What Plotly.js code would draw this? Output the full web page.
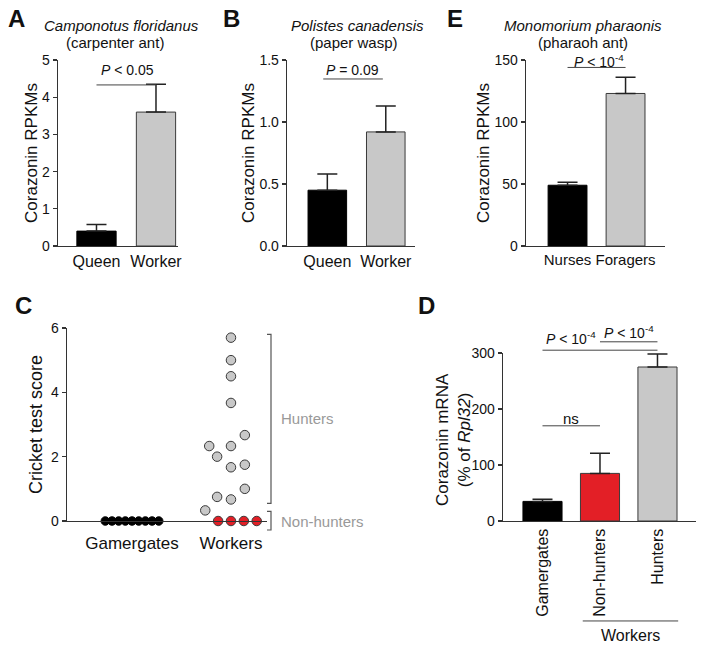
<!DOCTYPE html>
<html><head><meta charset="utf-8">
<script src="https://cdn.plot.ly/plotly-3.0.1.min.js"></script>
<style>html,body{margin:0;padding:0;background:#fff}#chart{width:704px;height:648px}</style>
</head><body><div id="chart"></div>
<script>
// ---------- data ----------
const casteCats = ['Queen', 'Worker'];
const campoValues = [0.40, 3.60];
const campoErrTop = [0.58, 4.35];
const polistesValues = [0.45, 0.92];
const polistesErrTop = [0.58, 1.13];
const pharaohCats = ['Nurses', 'Foragers'];
const pharaohValues = [49, 123];
const pharaohErrTop = [51.5, 136];
const mrnaCats = ['Gamergates', 'Non-hunters', 'Hunters'];
const mrnaValues = [35, 85, 275];
const mrnaErrTop = [39, 121, 298];
const cricketGroups = ['Gamergates', 'Workers'];
const gamergateScores = [0, 0, 0, 0, 0, 0, 0, 0, 0];
const gamergateJitter = [-0.27, -0.2025, -0.135, -0.0675, 0, 0.0675, 0.135, 0.2025, 0.27];
const hunterScores = [5.7, 5.0, 4.5, 3.67, 2.67, 2.33, 2.33, 2.0, 1.67, 1.75, 1.0, 0.75, 0.67, 0.33];
const hunterJitter = [0, 0, 0, 0, 0.14, -0.22, 0, -0.14, 0, 0.14, 0.14, -0.14, 0, -0.26];
const nonHunterScores = [0, 0, 0, 0];
const nonHunterJitter = [-0.13, 0, 0.13, 0.26];
const hunterBracket = [0.55, 5.8];
const nonHunterBracket = [-0.28, 0.3];

// ---------- styles ----------
const FONT = 'Liberation Sans, Arial, Helvetica, sans-serif';
const BLACK = '#000000', GREY = '#c8c8c8', RED = '#e31f26', EDGE = '#3a3a3a', AX = '#333333';
const W = 704, H = 648;
const px = x => x / W, py = y => 1 - y / H;

// panel frames (pixels) and ranges
const P = {
  A: {x: [58, 178], y: [246, 60], xr: [-0.647, 1.37], yr: [0, 5], ax: ''},
  B: {x: [287, 415], y: [246, 60], xr: [-0.69, 1.50], yr: [0, 1.5], ax: '2'},
  E: {x: [526, 665], y: [246, 60], xr: [-0.716, 1.68], yr: [0, 150], ax: '3'},
  C: {x: [67, 267], y: [521, 328], xr: [0.343, 2.364], yr: [0, 6], ax: '4'},
  D: {x: [503, 696], y: [521, 353], xr: [-0.687, 2.67], yr: [0, 300], ax: '5'}
};
const fx = (p, v) => (v - p.xr[0]) / (p.xr[1] - p.xr[0]);
const fy = (p, v) => (v - p.yr[0]) / (p.yr[1] - p.yr[0]);

function barTrace(p, cats, vals, errTop, colors, edges, width) {
  return {
    type: 'bar', x: cats, y: vals, width: width,
    xaxis: 'x' + p.ax, yaxis: 'y' + p.ax,
    marker: {color: colors, line: {color: edges, width: 1}},
    error_y: {type: 'data', symmetric: false,
      array: errTop.map((t, i) => t - vals[i]), arrayminus: vals.map(() => 0),
      color: '#222', thickness: 1.5, width: 10},
    hoverinfo: 'none'
  };
}

const traces = [
  barTrace(P.A, casteCats, campoValues, campoErrTop, [BLACK, GREY], [BLACK, EDGE], 0.66),
  barTrace(P.B, casteCats, polistesValues, polistesErrTop, [BLACK, GREY], [BLACK, EDGE], 0.66),
  barTrace(P.E, pharaohCats, pharaohValues, pharaohErrTop, [BLACK, GREY], [BLACK, EDGE], 0.67),
  barTrace(P.D, mrnaCats, mrnaValues, mrnaErrTop, [BLACK, RED, GREY], [BLACK, EDGE, EDGE], 0.68),
  {type: 'scatter', mode: 'markers', xaxis: 'x4', yaxis: 'y4', cliponaxis: false,
   x: gamergateJitter.map(j => 1 + j), y: gamergateScores,
   marker: {size: 8.5, color: BLACK, line: {color: BLACK, width: 1}}},
  {type: 'scatter', mode: 'markers', xaxis: 'x4', yaxis: 'y4', cliponaxis: false,
   x: hunterJitter.map(j => 2 + j), y: hunterScores,
   marker: {size: 9.5, color: GREY, line: {color: EDGE, width: 1}}},
  {type: 'scatter', mode: 'markers', xaxis: 'x4', yaxis: 'y4', cliponaxis: false,
   x: nonHunterJitter.map(j => 2 + j), y: nonHunterScores,
   marker: {size: 9.5, color: RED, line: {color: EDGE, width: 1}}}
];

function xAxis(p, extra) {
  return Object.assign({
    domain: [px(p.x[0]), px(p.x[1])], range: p.xr, anchor: 'y' + p.ax,
    showline: true, linecolor: AX, linewidth: 1.3, ticks: '', showgrid: false, zeroline: false,
    tickangle: 0, tickfont: {size: 16, color: '#111'}, fixedrange: true
  }, extra || {});
}
function yAxis(p, title, extra) {
  return Object.assign({
    domain: [py(p.y[0]), py(p.y[1])], range: p.yr, anchor: 'x' + p.ax,
    showline: true, linecolor: AX, linewidth: 1.3, ticks: 'outside', ticklen: 4, tickwidth: 1.3,
    tickcolor: AX, showgrid: false, zeroline: false, tickfont: {size: 14, color: '#111'},
    title: {text: title, font: {size: 17, color: '#111'}, standoff: 0}, fixedrange: true
  }, extra || {});
}

const layout = {
  width: W, height: H, margin: {l: 0, r: 0, t: 0, b: 0},
  paper_bgcolor: '#fff', plot_bgcolor: 'rgba(0,0,0,0)', showlegend: false,
  font: {family: FONT, color: '#111'}, bargap: 0,
  xaxis: xAxis(P.A), yaxis: yAxis(P.A, 'Corazonin RPKMs', {dtick: 1}),
  xaxis2: xAxis(P.B), yaxis2: yAxis(P.B, 'Corazonin RPKMs', {dtick: 0.5, tickformat: '.1f'}),
  xaxis3: xAxis(P.E, {tickfont: {size: 15, color: '#111'}}), yaxis3: yAxis(P.E, 'Corazonin RPKMs', {dtick: 50}),
  xaxis4: xAxis(P.C, {tickvals: [1, 2], ticktext: cricketGroups, tickfont: {size: 17, color: '#111'}, ticklabelstandoff: 6}),
  yaxis4: yAxis(P.C, 'Cricket test score', {dtick: 2, title: {text: 'Cricket test score', font: {size: 18, color: '#111'}, standoff: 3}}),
  xaxis5: xAxis(P.D, {tickangle: -90}),
  yaxis5: yAxis(P.D, '', {dtick: 100}),
  shapes: [], annotations: []
};

function sigLine(p, c0, c1, v) {
  layout.shapes.push({type: 'line', xref: 'x' + p.ax + ' domain', yref: 'y' + p.ax + ' domain',
    x0: fx(p, c0), x1: fx(p, c1), y0: fy(p, v), y1: fy(p, v), line: {color: '#444', width: 1}});
}
sigLine(P.A, 0, 1, 4.33);
sigLine(P.B, -0.07, 0.95, 1.347);
sigLine(P.E, 0, 1, 144);
sigLine(P.D, 0, 1, 170);
sigLine(P.D, 0, 2, 305);
sigLine(P.D, 1, 2, 320);
// workers group line under D
layout.shapes.push({type: 'line', xref: 'x5 domain', yref: 'y5 domain',
  x0: fx(P.D, 0.70), x1: fx(P.D, 2.36), y0: -0.595, y1: -0.595, line: {color: '#444', width: 1}});
// brackets in C
function bracket(p, lo, hi) {
  const xa = 'x' + p.ax + ' domain', ya = 'y' + p.ax + ' domain';
  const xb = 1.02, xt = 1.0;
  layout.shapes.push({type: 'path', xref: xa, yref: ya,
    path: `M${xt},${fy(p, hi)} L${xb},${fy(p, hi)} L${xb},${fy(p, lo)} L${xt},${fy(p, lo)}`,
    line: {color: '#555', width: 1.2}});
}
bracket(P.C, hunterBracket[0], hunterBracket[1]);
bracket(P.C, nonHunterBracket[0], nonHunterBracket[1]);

function txt(x, y, text, size, opts) {
  layout.annotations.push(Object.assign({xref: 'paper', yref: 'paper', x: px(x), y: py(y), text: text,
    showarrow: false, xanchor: 'center', yanchor: 'middle', font: {size: size, color: '#111', family: FONT}}, opts || {}));
}
const letter = {size: 24, color: '#111', family: FONT, weight: 'bold'};
txt(16, 18, '<b>A</b>', 24, {font: letter});
txt(231, 18, '<b>B</b>', 24, {font: letter});
txt(455, 18, '<b>E</b>', 24, {font: letter});
txt(23, 305, '<b>C</b>', 24, {font: letter});
txt(426, 305, '<b>D</b>', 24, {font: letter});
txt(121, 26, '<i>Camponotus floridanus</i>', 15);
txt(115, 43, '(carpenter ant)', 15);
txt(357, 26, '<i>Polistes canadensis</i>', 15);
txt(354, 43, '(paper wasp)', 15);
txt(583, 26, '<i>Monomorium pharaonis</i>', 15);
txt(583, 43, '(pharaoh ant)', 15);
txt(127, 70, '<i>P</i> &lt; 0.05', 14);
txt(352, 70, '<i>P</i> = 0.09', 14);
txt(599, 61, '<i>P</i> &lt; 10<sup>-4</sup>', 14);
txt(571, 338, '<i>P</i> &lt; 10<sup>-4</sup>', 14);
txt(629, 332, '<i>P</i> &lt; 10<sup>-4</sup>', 14);
txt(571, 418, 'ns', 15);
txt(279, 418, 'Hunters', 15, {xanchor: 'left', font: {size: 15, color: '#999', family: FONT}});
txt(279, 521, 'Non-hunters', 15, {xanchor: 'left', font: {size: 15, color: '#999', family: FONT}});
txt(630, 635, 'Workers', 16);
txt(453, 440, 'Corazonin mRNA<br>(% of <i>Rpl32</i>)', 17, {textangle: -90});

Plotly.newPlot('chart', traces, layout, {staticPlot: true, displayModeBar: false});
</script>
</body></html>
